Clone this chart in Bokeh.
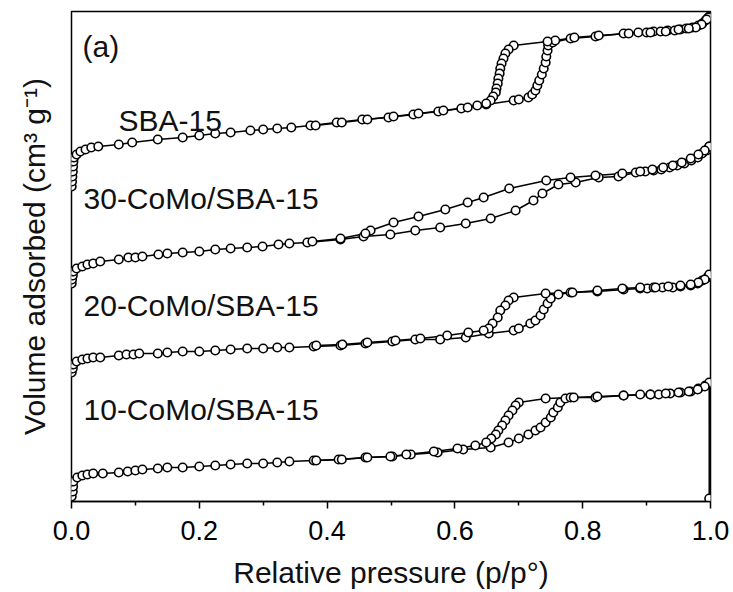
from bokeh.embed import file_html
from bokeh.models import FixedTicker, Label, LinearAxis, NumeralTickFormatter, Range1d
from bokeh.plotting import figure
from bokeh.resources import INLINE

# N2 sorption isotherms: relative pressure p/p0 and adsorbed volume (arbitrary units)
# Each isotherm is shifted upward by its offset for clarity.
SAMPLES = ["SBA-15", "30-CoMo/SBA-15", "20-CoMo/SBA-15", "10-CoMo/SBA-15"]
OFFSETS = [310, 215, 126, 0]

sba_ads_p = [0.0003, 0.0008, 0.0013, 0.002, 0.0025, 0.003, 0.004, 0.008, 0.014, 0.022, 0.031, 0.042,
             0.074, 0.095, 0.135, 0.174, 0.200, 0.225, 0.249, 0.280, 0.300, 0.322, 0.344, 0.374,
             0.415, 0.455, 0.496, 0.535, 0.574, 0.610, 0.635, 0.649, 0.692, 0.700, 0.715, 0.721,
             0.726, 0.729, 0.732, 0.736, 0.739, 0.742, 0.743, 0.745, 0.746, 0.753, 0.781, 0.820,
             0.864, 0.887, 0.900, 0.911, 0.922, 0.933, 0.944, 0.953, 0.962, 0.972, 0.981, 0.987,
             0.992, 0.995, 0.998]
sba_ads_v = [5, 10, 15, 20, 25, 30, 34, 37, 40, 42, 44, 45,
             47, 49, 52, 54, 56, 58, 59, 61, 62, 63, 64, 66,
             69, 72, 74, 77, 80, 83, 86, 87, 91, 92, 94, 97,
             101, 106, 111, 117, 123, 129, 135, 141, 146, 149, 153, 155,
             158, 159, 159, 160, 160, 161, 161, 162, 163, 164, 166, 168,
             171, 173, 175]
sba_des_p = [0.997, 0.994, 0.986, 0.977, 0.966, 0.950, 0.930, 0.906, 0.872, 0.825, 0.787, 0.757,
             0.745, 0.692, 0.684, 0.679, 0.676, 0.673, 0.671, 0.670, 0.668, 0.667, 0.665, 0.664,
             0.660, 0.656, 0.649, 0.620, 0.582, 0.543, 0.504, 0.463, 0.423, 0.382]
sba_des_v = [174, 172, 167, 164, 163, 162, 160, 159, 158, 156, 154, 151,
             150, 146, 142, 138, 133, 128, 123, 118, 113, 108, 103, 99,
             95, 91, 88, 84, 81, 78, 75, 72, 69, 66]

co30_ads_p = [0.0003, 0.0008, 0.002, 0.003, 0.008, 0.017, 0.025, 0.034, 0.045, 0.074, 0.089, 0.100,
              0.111, 0.136, 0.150, 0.174, 0.200, 0.225, 0.249, 0.275, 0.299, 0.324, 0.341, 0.369,
              0.421, 0.457, 0.499, 0.538, 0.577, 0.617, 0.656, 0.695, 0.723, 0.737, 0.762, 0.789,
              0.825, 0.856, 0.883, 0.898, 0.911, 0.923, 0.936, 0.948, 0.959, 0.970, 0.980, 0.987,
              0.994, 0.998]
co30_ads_v = [3, 7, 11, 15, 18, 20, 22, 23, 25, 27, 29, 29,
              30, 32, 33, 34, 35, 37, 38, 39, 40, 42, 43, 44,
              47, 50, 52, 56, 59, 63, 68, 76, 86, 93, 102, 104,
              109, 110, 114, 115, 116, 117, 119, 121, 123, 126, 129, 133,
              136, 140]
co30_des_p = [0.998, 0.991, 0.981, 0.969, 0.955, 0.941, 0.926, 0.909, 0.890, 0.862, 0.820, 0.781,
              0.743, 0.685, 0.645, 0.620, 0.585, 0.543, 0.504, 0.468, 0.460, 0.421, 0.377]
co30_des_v = [140, 136, 132, 128, 124, 121, 119, 117, 115, 113, 111, 109,
              106, 98, 89, 84, 77, 70, 64, 56, 53, 48, 45]

co20_ads_p = [0.0003, 0.002, 0.003, 0.008, 0.017, 0.025, 0.034, 0.045, 0.074, 0.086, 0.097, 0.106,
              0.135, 0.150, 0.174, 0.200, 0.225, 0.249, 0.275, 0.300, 0.322, 0.341, 0.379, 0.421,
              0.460, 0.502, 0.538, 0.577, 0.617, 0.653, 0.692, 0.700, 0.718, 0.726, 0.734, 0.739,
              0.745, 0.750, 0.762, 0.781, 0.823, 0.864, 0.890, 0.901, 0.911, 0.925, 0.941, 0.953,
              0.969, 0.980, 0.987, 0.995, 0.998]
co20_ads_v = [3, 7, 11, 14, 16, 17, 18, 18, 20, 21, 21, 22,
              22, 23, 24, 24, 25, 26, 27, 27, 28, 28, 29, 30,
              32, 34, 36, 36, 38, 42, 45, 47, 52, 55, 60, 66,
              72, 77, 81, 83, 84, 86, 87, 87, 88, 88, 88, 89,
              90, 92, 95, 98, 100]
co20_des_p = [0.998, 0.991, 0.981, 0.969, 0.953, 0.934, 0.914, 0.890, 0.862, 0.823, 0.784, 0.742,
              0.692, 0.684, 0.679, 0.671, 0.667, 0.659, 0.653, 0.645, 0.621, 0.588, 0.546, 0.507,
              0.463, 0.424, 0.383]
co20_des_v = [101, 96, 93, 91, 90, 89, 88, 88, 87, 85, 83, 82,
              78, 75, 70, 65, 58, 52, 47, 45, 43, 40, 37, 35,
              33, 31, 30]

co10_ads_p = [0.0003, 0.002, 0.0025, 0.003, 0.009, 0.017, 0.025, 0.034, 0.049, 0.074, 0.088, 0.100,
              0.111, 0.135, 0.150, 0.174, 0.200, 0.225, 0.249, 0.275, 0.300, 0.322, 0.341, 0.379,
              0.418, 0.460, 0.502, 0.531, 0.573, 0.613, 0.656, 0.684, 0.700, 0.715, 0.726, 0.734,
              0.742, 0.750, 0.754, 0.761, 0.765, 0.773, 0.781, 0.820, 0.864, 0.890, 0.906, 0.919,
              0.937, 0.953, 0.969, 0.981, 0.992, 0.998]
co10_ads_v = [5, 10, 15, 20, 24, 26, 27, 28, 28, 29, 30, 31,
              32, 33, 34, 34, 35, 36, 37, 38, 38, 39, 40, 41,
              42, 44, 45, 47, 49, 52, 54, 59, 63, 67, 71, 74,
              79, 84, 89, 94, 99, 103, 104, 104, 106, 107, 107, 107,
              108, 109, 110, 113, 116, 118]
co10_des_p = [0.998, 0.998, 0.991, 0.980, 0.966, 0.950, 0.930, 0.906, 0.864, 0.823, 0.786, 0.742,
              0.700, 0.695, 0.690, 0.684, 0.679, 0.674, 0.668, 0.664, 0.657, 0.649, 0.632, 0.604,
              0.567, 0.524, 0.499, 0.463, 0.423, 0.383]
co10_des_v = [3, 119, 115, 112, 110, 109, 108, 107, 106, 105, 104, 103,
              99, 96, 91, 86, 81, 76, 71, 67, 63, 59, 56, 53,
              50, 47, 45, 44, 42, 41]

ISOTHERMS = [
    (sba_ads_p, sba_ads_v, sba_des_p, sba_des_v),
    (co30_ads_p, co30_ads_v, co30_des_p, co30_des_v),
    (co20_ads_p, co20_ads_v, co20_des_p, co20_des_v),
    (co10_ads_p, co10_ads_v, co10_des_p, co10_des_v),
]

X_TICKS = [0.0, 0.2, 0.4, 0.6, 0.8, 1.0]
X_MINOR = [0.1, 0.3, 0.5, 0.7, 0.9]

FONT = "Liberation Sans"

p = figure(
    width=733, height=592,
    x_range=Range1d(0, 1), y_range=Range1d(0, 490),
    output_backend="svg", toolbar_location=None,
    y_axis_location=None,
    min_border_left=71, min_border_right=23, min_border_top=11, min_border_bottom=91,
)
p.background_fill_color = "white"
p.border_fill_color = "white"
p.xgrid.grid_line_color = None
p.ygrid.grid_line_color = None
p.outline_line_color = "black"
p.outline_line_width = 1.5
p.outline_line_alpha = 1.0

ax = p.xaxis[0]
ax.ticker = FixedTicker(ticks=X_TICKS, minor_ticks=X_MINOR)
ax.formatter = NumeralTickFormatter(format="0.0")
ax.axis_line_width = 1.5
ax.axis_line_color = "black"
ax.major_tick_line_width = 1.5
ax.minor_tick_line_width = 1.5
ax.major_tick_line_color = "black"
ax.minor_tick_line_color = "black"
ax.major_tick_in = 0
ax.major_tick_out = 7
ax.minor_tick_in = 0
ax.minor_tick_out = 4
ax.major_label_text_font = FONT
ax.major_label_text_font_size = "27px"
ax.major_label_text_color = "black"
ax.major_label_standoff = 12
ax.axis_label = "Relative pressure (p/p°)"
ax.axis_label_text_font = FONT
ax.axis_label_text_font_size = "30px"
ax.axis_label_text_font_style = "normal"
ax.axis_label_text_color = "#111111"
ax.axis_label_standoff = 13

# left axis carries only the title; the volume scale is arbitrary
yax = LinearAxis(ticker=FixedTicker(ticks=[]), axis_line_color=None,
                 major_tick_line_color=None, minor_tick_line_color=None)
yax.axis_label = "Volume adsorbed (cm³ g⁻¹)"
yax.axis_label_text_font = FONT
yax.axis_label_text_font_size = "30px"
yax.axis_label_text_font_style = "normal"
yax.axis_label_text_color = "#111111"
yax.axis_label_standoff = 21
p.add_layout(yax, "left")

for (ap, av, dp, dv), off in zip(ISOTHERMS, OFFSETS):
    ay = [v + off for v in av]
    dy = [v + off for v in dv]
    p.line(ap, ay, line_color="black", line_width=1.5)
    p.line(dp, dy, line_color="black", line_width=1.5)
    for xs, ys in ((ap, ay), (dp, dy)):
        p.scatter(xs, ys, marker="circle", size=8.5, fill_color="white",
                  line_color="black", line_width=1.6)

# sample names next to their curves
label_pos = [(0.0736, 381), (0.0188, 303), (0.0188, 196), (0.0188, 92)]
for name, (lx, ly) in zip(SAMPLES, label_pos):
    p.add_layout(Label(x=lx, y=ly, text=name, text_font=FONT, text_font_size="30px",
                       text_color="#111111", text_baseline="alphabetic", text_align="left"))

p.add_layout(Label(x=0.0172, y=455, text="(a)", text_font=FONT, text_font_size="30px",
                   text_color="#111111", text_baseline="alphabetic", text_align="left"))

open("out.html", "w").write(file_html(p, INLINE))
